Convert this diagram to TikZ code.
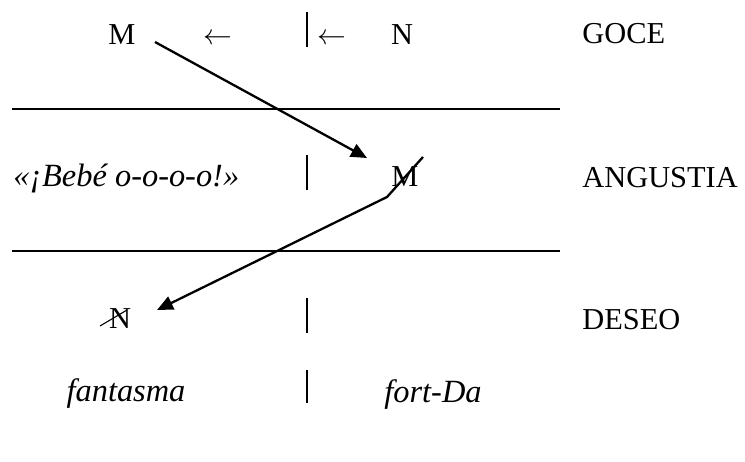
\documentclass[tikz,border=0pt]{standalone}
\usepackage{fontspec}
\setmainfont{Liberation Serif}
\usepackage{tikz}
\usetikzlibrary{
  arrows.meta,
  calc,
  positioning
}
\definecolor{schemaInk}{HTML}{000000}
\tikzset{
  schemaText/.style={
    font=\fontsize{15.2}{18}\selectfont,
    inner sep=0pt,
    anchor=base,
    text=schemaInk
  },
  rowLabel/.style={schemaText, anchor=base west},
  italicText/.style={schemaText, font=\fontsize{16.2}{19}\selectfont\itshape},
  schemaArrow/.style={-{Triangle[length=8pt,width=7pt]}, line width=1.15pt, schemaInk},
  splitLine/.style={line width=0.65pt, schemaInk},
  barLine/.style={line width=0.6pt, schemaInk},
  strikeLine/.style={line width=0.55pt, schemaInk}
}

\begin{document}
\begin{tikzpicture}[x=0.5pt,y=-0.5pt]
  \useasboundingbox (0,0) rectangle (745,461);

  % top row
  \node[schemaText] (mTop)  at (122,44) {M};
  \node[schemaText] (larrA) at (218,44) {\(\leftarrow\)};
  \node[schemaText] (larrB) at (332,44) {\(\leftarrow\)};
  \node[schemaText] (nTop)  at (402,44) {N};
  \node[rowLabel]   (goce)  at (582,43) {GOCE};

  % second row
  \node[italicText, anchor=base west] (bebe) at (13,186) {«¡Bebé o-o-o-o!»};
  \node[schemaText] (mBar) at (405,186) {M};
  \node[rowLabel] (angustia) at (582,187) {ANGUSTIA};

  % third row
  \node[schemaText] (nBar) at (120,328) {N};
  \node[rowLabel] (deseo) at (582,329) {DESEO};

  % bottom row
  \node[italicText] (fantasma) at (126,401) {fantasma};
  \node[italicText] (fortDa)   at (433,402) {fort-Da};

  % column bars
  \draw[barLine] (307,12) -- (307,47);
  \draw[barLine] (307,155) -- (307,190);
  \draw[barLine] (307,298) -- (307,333);
  \draw[barLine] (307,370) -- (307,403);

  % level separators
  \draw[splitLine] (12,109) -- (560,109);
  \draw[splitLine] (12,251) -- (560,251);

  % barring of N
  \draw[strikeLine] (100,326) -- (127,310);

  % arrows
  \coordinate (fromM)     at (155,42);
  \coordinate (toMBar)    at (367,158);
  \coordinate (slashTop)  at (423,157);
  \coordinate (slashKink) at (387,197);
  \coordinate (toNBar)    at (157,310);

  \draw[schemaArrow] (fromM) -- (toMBar);
  \draw[schemaArrow] (slashTop) -- (slashKink) -- (toNBar);
\end{tikzpicture}
\end{document}
